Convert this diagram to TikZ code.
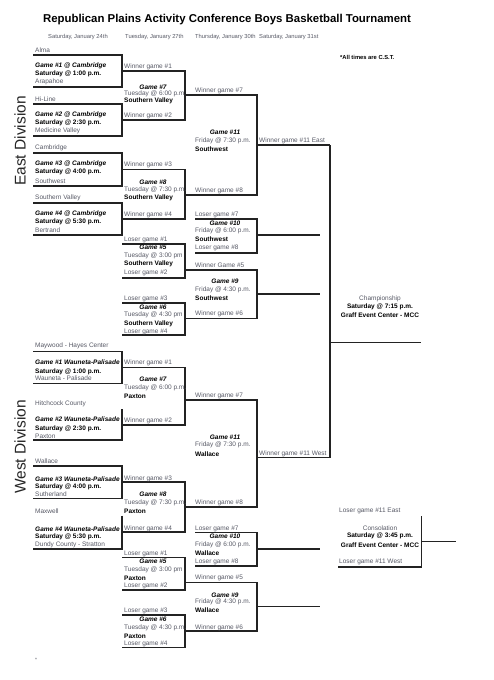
\documentclass[tikz,border=0pt]{standalone}
\usepackage{fontspec}
\setmainfont{Liberation Sans}
\definecolor{txtgray}{RGB}{88,90,102}
\definecolor{linec}{RGB}{35,35,35}
\newcommand{\smf}{\fontsize{6.5}{7}\selectfont}
\tikzset{
 lbl/.style={anchor=west, inner sep=0pt, font=\smf, text=txtgray},
 bld/.style={anchor=west, inner sep=0pt, font=\smf\bfseries, text=black},
 gbi/.style={anchor=west, inner sep=0pt, font=\smf\bfseries\itshape, text=black},
 gmc/.style={anchor=center, inner sep=0pt, font=\smf\bfseries\itshape, text=black},
 cgray/.style={anchor=center, inner sep=0pt, font=\smf, text=txtgray},
 cbold/.style={anchor=center, inner sep=0pt, font=\smf\bfseries, text=black},
 brk/.style={draw=linec, line width=1.2pt},
 datetxt/.style={anchor=west, inner sep=0pt, font=\fontsize{5.8}{6}\selectfont, text=txtgray},
 divtxt/.style={anchor=center, inner sep=0pt, rotate=90, font=\fontsize{15.5}{16}\selectfont, text=black!85},
}
\begin{document}
\begin{tikzpicture}[x=1pt,y=-1pt]
\fill[white] (0,0) rectangle (493,680);
\useasboundingbox (0,0) rectangle (493,680);

% title and header
\node[anchor=center, inner sep=0pt, font=\fontsize{11.4}{13}\selectfont\bfseries] (title) at (227,20) {Republican Plains Activity Conference Boys Basketball Tournament};
\node[datetxt] (d1) at (48,37) {Saturday, January 24th};
\node[datetxt] (d2) at (125,37) {Tuesday, January 27th};
\node[datetxt] (d3) at (195,37) {Thursday, January 30th};
\node[datetxt] (d4) at (259,37) {Saturday, January 31st};
\node[anchor=west, inner sep=0pt, font=\fontsize{5.8}{6}\selectfont\bfseries] (cst) at (340,57) {*All times are C.S.T.};

\node[divtxt] (east) at (20,141) {East Division};
\node[divtxt] (west) at (20,447) {West Division};

% ================= EAST round 1
\draw[brk] (33,55) -- (122,55) -- (122,87) -- (33,87);
\node[lbl] (e1t) at (35,50) {Alma};
\node[gbi] (e1g) at (35,66) {Game \#1 @ Cambridge};
\node[bld] (e1s) at (35,74) {Saturday @ 1:00 p.m.};
\node[lbl] (e1b) at (35,82) {Arapahoe};

\draw[brk] (33,104) -- (122,104) -- (122,136) -- (33,136);
\node[lbl] (e2t) at (35,99) {Hi-Line};
\node[gbi] (e2g) at (35,115) {Game \#2 @ Cambridge};
\node[bld] (e2s) at (35,123) {Saturday @ 2:30 p.m.};
\node[lbl] (e2b) at (35,131) {Medicine Valley};

\draw[brk] (33,153) -- (122,153) -- (122,186) -- (33,186);
\node[lbl] (e3t) at (35,148) {Cambridge};
\node[gbi] (e3g) at (35,164) {Game \#3 @ Cambridge};
\node[bld] (e3s) at (35,172) {Saturday @ 4:00 p.m.};
\node[lbl] (e3b) at (35,181) {Southwest};

\draw[brk] (33,203) -- (122,203) -- (122,235) -- (33,235);
\node[lbl] (e4t) at (35,198) {Southern Valley};
\node[gbi] (e4g) at (35,214) {Game \#4 @ Cambridge};
\node[bld] (e4s) at (35,222) {Saturday @ 5:30 p.m.};
\node[lbl] (e4b) at (35,230) {Bertrand};

% EAST round 2
\draw[brk] (122,71) -- (185,71) -- (185,120) -- (122,120);
\node[lbl] (e7a) at (124,67) {Winner game \#1};
\node[gmc] (e7g) at (153,87) {Game \#7};
\node[lbl] (e7t) at (124,94) {Tuesday @ 6:00 p.m.};
\node[bld] (e7w) at (124,101) {Southern Valley};
\node[lbl] (e7b) at (124,116) {Winner game \#2};

\draw[brk] (122,169.5) -- (185,169.5) -- (185,219) -- (122,219);
\node[lbl] (e8a) at (124,165) {Winner game \#3};
\node[gmc] (e8g) at (153,182) {Game \#8};
\node[lbl] (e8t) at (124,190) {Tuesday @ 7:30 p.m.};
\node[bld] (e8w) at (124,198) {Southern Valley};
\node[lbl] (e8b) at (124,215) {Winner game \#4};

\draw[brk] (122,244) -- (185,244) -- (185,278) -- (122,278);
\node[lbl] (e5a) at (124,240) {Loser game \#1};
\node[gmc] (e5g) at (153,247.5) {Game \#5};
\node[lbl] (e5t) at (124,255.5) {Tuesday @ 3:00 pm};
\node[bld] (e5w) at (124,264) {Southern Valley};
\node[lbl] (e5b) at (124,273) {Loser game \#2};

\draw[brk] (122,303) -- (185,303) -- (185,335) -- (122,335);
\node[lbl] (e6a) at (124,299) {Loser game \#3};
\node[gmc] (e6g) at (153,307) {Game \#6};
\node[lbl] (e6t) at (124,315) {Tuesday @ 4:30 pm};
\node[bld] (e6w) at (124,323.5) {Southern Valley};
\node[lbl] (e6b) at (124,331.5) {Loser game \#4};

% EAST round 3
\draw[brk] (185,95) -- (257,95) -- (257,195) -- (185,195);
\draw[brk] (257,145) -- (330,145);
\node[lbl] (e11a) at (195,91) {Winner game \#7};
\node[gmc] (e11g) at (225,132) {Game \#11};
\node[lbl] (e11t) at (195,141) {Friday @ 7:30 p.m.};
\node[bld] (e11w) at (195,149.5) {Southwest};
\node[lbl] (e11b) at (195,191) {Winner game \#8};
\node[lbl] (e11o) at (259,141) {Winner game \#11 East};

\draw[brk] (195,219) -- (257,219) -- (257,253) -- (195,253);
\draw[brk] (257,235) -- (320,235);
\node[lbl] (e10a) at (195,214.5) {Loser game \#7};
\node[gmc] (e10g) at (225,223.5) {Game \#10};
\node[lbl] (e10t) at (195,231) {Friday @ 6:00 p.m.};
\node[bld] (e10w) at (195,239.5) {Southwest};
\node[lbl] (e10b) at (195,247.5) {Loser game \#8};

\draw[brk] (185,270) -- (257,270) -- (257,318.5) -- (185,318.5);
\draw[brk] (257,294) -- (320,294);
\node[lbl] (e9a) at (195,265) {Winner Game \#5};
\node[gmc] (e9g) at (225,281.5) {Game \#9};
\node[lbl] (e9t) at (195,290) {Friday @ 4:30 p.m.};
\node[bld] (e9w) at (195,298.5) {Southwest};
\node[lbl] (e9b) at (195,314) {Winner game \#6};

% Championship
\draw[brk] (330,145) -- (330,457.5);
\draw[brk] (330,342.5) -- (421,342.5);
\node[cgray] (ch1) at (380,299) {Championship};
\node[cbold] (ch2) at (380,307) {Saturday @ 7:15 p.m.};
\node[cbold] (ch3) at (380,315) {Graff Event Center - MCC};

% ================= WEST round 1
\draw[brk] (33,351.5) -- (122,351.5) -- (122,383.5) -- (33,383.5);
\node[lbl] (w1t) at (35,346) {Maywood - Hayes Center};
\node[gbi] (w1g) at (35,362.5) {Game \#1 Wauneta-Palisade};
\node[bld] (w1s) at (35,371.5) {Saturday @ 1:00 p.m.};
\node[lbl] (w1b) at (35,378.5) {Wauneta - Palisade};

\draw[brk] (122,409) -- (122,440) -- (33,440);
\node[lbl] (w2t) at (35,403.5) {Hitchcock County};
\node[gbi] (w2g) at (35,419.5) {Game \#2 Wauneta-Palisade};
\node[bld] (w2s) at (35,428.5) {Saturday @ 2:30 p.m.};
\node[lbl] (w2b) at (35,436.5) {Paxton};

\draw[brk] (33,466) -- (122,466) -- (122,498.5) -- (33,498.5);
\node[lbl] (w3t) at (35,461) {Wallace};
\node[gbi] (w3g) at (35,479) {Game \#3 Wauneta-Palisade};
\node[bld] (w3s) at (35,486.5) {Saturday @ 4:00 p.m.};
\node[lbl] (w3b) at (35,494.5) {Sutherland};

\draw[brk] (122,515.5) -- (122,549) -- (33,549);
\node[lbl] (w4t) at (35,511) {Maxwell};
\node[gbi] (w4g) at (35,529) {Game \#4 Wauneta-Palisade};
\node[bld] (w4s) at (35,536.5) {Saturday @ 5:30 p.m.};
\node[lbl] (w4b) at (35,545) {Dundy County - Stratton};

% WEST round 2
\draw[brk] (122,367.5) -- (185,367.5) -- (185,425) -- (122,425);
\node[lbl] (w7a) at (124,362.5) {Winner game \#1};
\node[gmc] (w7g) at (153,379.5) {Game \#7};
\node[lbl] (w7t) at (124,387.5) {Tuesday @ 6:00 p.m.};
\node[bld] (w7w) at (124,396) {Paxton};
\node[lbl] (w7b) at (124,420.5) {Winner game \#2};

\draw[brk] (122,482) -- (185,482) -- (185,532) -- (122,532);
\node[lbl] (w8a) at (124,478.5) {Winner game \#3};
\node[gmc] (w8g) at (153,494) {Game \#8};
\node[lbl] (w8t) at (124,502.5) {Tuesday @ 7:30 p.m.};
\node[bld] (w8w) at (124,511) {Paxton};
\node[lbl] (w8b) at (124,528.5) {Winner game \#4};

\draw[brk] (122,557.5) -- (185,557.5) -- (185,590) -- (122,590);
\node[lbl] (w5a) at (124,553.5) {Loser game \#1};
\node[gmc] (w5g) at (153,561) {Game \#5};
\node[lbl] (w5t) at (124,569.5) {Tuesday @ 3:00 pm};
\node[bld] (w5w) at (124,578) {Paxton};
\node[lbl] (w5b) at (124,586) {Loser game \#2};

\draw[brk] (122,615) -- (185,615) -- (185,647.5) -- (122,647.5);
\node[lbl] (w6a) at (124,610.5) {Loser game \#3};
\node[gmc] (w6g) at (153,619.5) {Game \#6};
\node[lbl] (w6t) at (124,627.5) {Tuesday @ 4:30 p.m.};
\node[bld] (w6w) at (124,636) {Paxton};
\node[lbl] (w6b) at (124,643.5) {Loser game \#4};

% WEST round 3
\draw[brk] (185,400) -- (257,400) -- (257,507) -- (185,507);
\draw[brk] (257,457.5) -- (330,457.5);
\node[lbl] (w11a) at (195,395.5) {Winner game \#7};
\node[gmc] (w11g) at (225,437.5) {Game \#11};
\node[lbl] (w11t) at (195,445) {Friday @ 7:30 p.m.};
\node[bld] (w11w) at (195,454) {Wallace};
\node[lbl] (w11b) at (195,503) {Winner game \#8};
\node[lbl] (w11o) at (259,454) {Winner game \#11 West};

\draw[brk] (195,532.5) -- (257,532.5) -- (257,566) -- (195,566);
\draw[brk] (257,549) -- (320,549);
\node[lbl] (w10a) at (195,528.5) {Loser game \#7};
\node[gmc] (w10g) at (225,536) {Game \#10};
\node[lbl] (w10t) at (195,545) {Friday @ 6:00 p.m.};
\node[bld] (w10w) at (195,553.5) {Wallace};
\node[lbl] (w10b) at (195,561.5) {Loser game \#8};

\draw[brk] (185,582.5) -- (257,582.5) -- (257,631) -- (185,631);
\draw[brk] (257,606.5) -- (320,606.5);
\node[lbl] (w9a) at (195,577.5) {Winner game \#5};
\node[gmc] (w9g) at (225,595) {Game \#9};
\node[lbl] (w9t) at (195,602) {Friday @ 4:30 p.m.};
\node[bld] (w9w) at (195,610.5) {Wallace};
\node[lbl] (w9b) at (195,627.5) {Winner game \#6};

% Consolation
\draw[brk] (421.5,516) -- (421.5,567) -- (338,567);
\draw[brk] (421.5,541.5) -- (456,541.5);
\node[lbl] (co1) at (339,511) {Loser game \#11 East};
\node[cgray] (co2) at (380,528) {Consolation};
\node[cbold] (co3) at (380,536) {Saturday @ 3:45 p.m.};
\node[cbold] (co4) at (380,545) {Graff Event Center - MCC};
\node[lbl] (co5) at (339,561.5) {Loser game \#11 West};

\node[anchor=center, inner sep=0pt, font=\fontsize{5}{5}\selectfont, text=txtgray] (star) at (36,660) {*};
\end{tikzpicture}
\end{document}
